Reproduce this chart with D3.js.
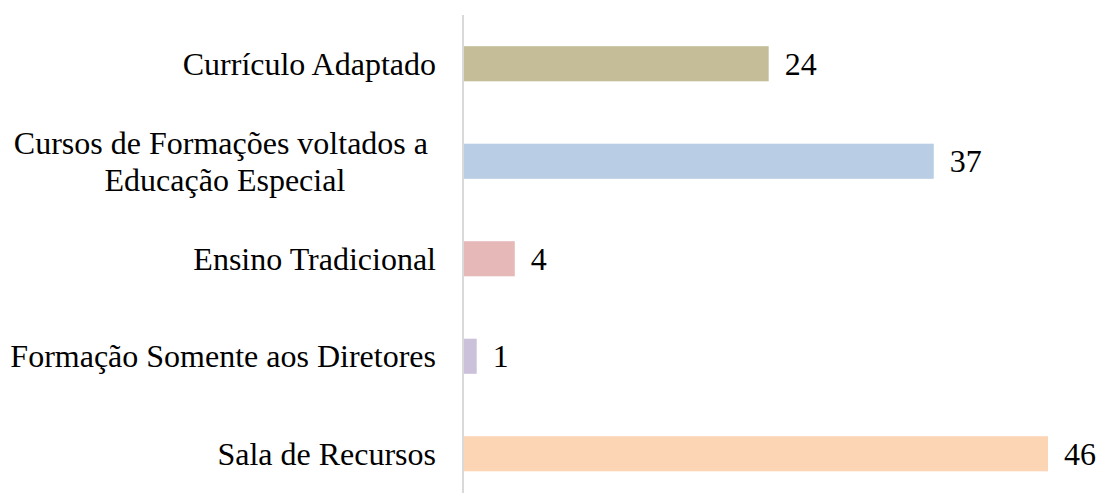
<!DOCTYPE html>
<html><head><meta charset="utf-8">
<script src="https://cdn.jsdelivr.net/npm/d3@7"></script>
<style>body{margin:0;background:#fff}svg{display:block}</style>
</head><body>
<svg id="c" width="1100" height="493"></svg>
<script>
const categories = [["Currículo Adaptado"], ["Cursos de Formações voltados a ", "Educação Especial"], ["Ensino Tradicional"], ["Formação Somente aos Diretores"], ["Sala de Recursos"]];
const values = [24, 37, 4, 1, 46];
const colors = ["#c4bd97", "#b9cde5", "#e6b9b8", "#ccc1da", "#fcd5b5"];

const svg = d3.select("#c");
const font = "'Liberation Serif','Times New Roman',serif";
const fs = 32;
const x = d3.scaleLinear().domain([0, 46]).range([464, 1048]);
const y = d3.scaleBand().domain(d3.range(values.length)).range([15, 502.5]).paddingInner(0.64).paddingOuter(0.32);

svg.selectAll("rect.bar").data(values).join("rect")
  .attr("x", x(0)).attr("y", (d, i) => y(i)).attr("width", d => x(d) - x(0)).attr("height", y.bandwidth())
  .attr("fill", (d, i) => colors[i]);

svg.append("line").attr("x1", 463).attr("x2", 463).attr("y1", 15).attr("y2", 493)
  .attr("stroke", "#d9d9d9").attr("stroke-width", 2);

svg.selectAll("text.val").data(values).join("text")
  .attr("x", d => x(d) + 16).attr("y", (d, i) => y(i) + y.bandwidth() / 2)
  .attr("dy", "0.35em").attr("font-family", font).attr("font-size", fs).attr("fill", "#000")
  .text(d => d);

const labelRight = 436;
const lh = 37;
categories.forEach((lines, i) => {
  const cy = y(i) + y.bandwidth() / 2;
  const g = svg.append("g");
  const texts = lines.map((ln, k) => g.append("text")
    .attr("font-family", font).attr("font-size", fs).attr("fill", "#000")
    .attr("xml:space", "preserve").style("white-space", "pre")
    .attr("y", cy + (k - (lines.length - 1) / 2) * lh).attr("dy", "0.35em").text(ln));
  const widths = texts.map(t => t.node().getComputedTextLength());
  const maxW = d3.max(widths);
  const center = labelRight - maxW / 2;
  texts.forEach(t => t.attr("x", center).attr("text-anchor", "middle"));
});
</script>
</body></html>
